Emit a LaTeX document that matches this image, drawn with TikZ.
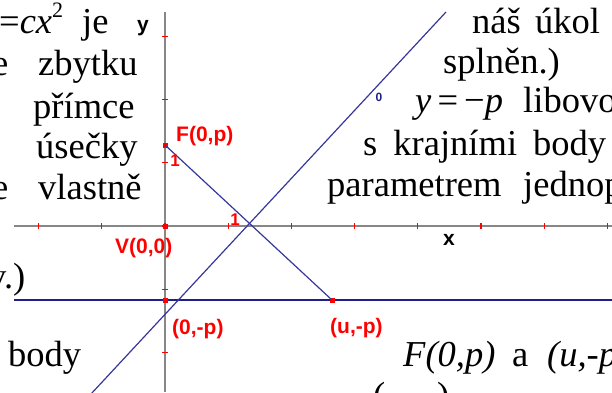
\documentclass[tikz,border=0pt]{standalone}
\usepackage{fontspec}
\setmainfont{Liberation Serif}
\setsansfont{Liberation Sans}
\usepackage{xcolor}
\usetikzlibrary{positioning}
\definecolor{axisgray}{RGB}{135,135,135}
\definecolor{linenavy}{RGB}{55,55,155}
\definecolor{dirnavy}{RGB}{30,30,140}
\definecolor{labred}{RGB}{255,0,0}

\begin{document}
\begin{tikzpicture}[x=1pt,y=-1pt,
  txt/.style={anchor=base west,inner sep=0pt,font=\fontsize{36.5}{40}\selectfont},
  lab/.style={anchor=base west,inner sep=0pt,text=labred,font=\sffamily\bfseries\fontsize{21}{21}\selectfont},
  unitlab/.style={inner sep=0pt,text=labred,font=\sffamily\bfseries\fontsize{17}{17}\selectfont},
  axlab/.style={anchor=base west,inner sep=0pt,font=\sffamily\bfseries\fontsize{21}{21}\selectfont},
  pt/.style={fill=labred,inner sep=0pt,minimum size=5pt},
  axis/.style={axisgray,line width=1.8pt},
  tick/.style={labred,line width=1.2pt}]
\useasboundingbox (0,0) rectangle (612,392);
\clip (0,0) rectangle (612,392);
% text of the page behind the picture
\node[txt] (l1a) at (-1,33) {=\textit{cx}\raisebox{0.42em}{\fontsize{22}{22}\selectfont 2}};
\node[txt] (l1b) at (82,33) {je};
\node[txt] (l2a) at (-8,75) {e};
\node[txt] (l2b) at (38,75) {zbytku};
\node[txt] (l3) at (33,118) {přímce};
\node[txt] (l4) at (36,158) {úsečky};
\node[txt] (l5a) at (-8,199) {e};
\node[txt] (l5b) at (38,199) {vlastně};
\node[txt] (l6) at (-12,288) {v.)};
\node[txt] (l7) at (8,366) {body};
\node[txt] (r1a) at (472,33) {náš};
\node[txt] (r1b) at (535,33) {úkol};
\node[txt] (r2) at (443,73) {splněn.)};
\node[txt] (r3a) at (415,112) {\textit{y}\,=\,−\textit{p}};
\node[txt] (r3b) at (523,112) {libovo};
\node[txt] (r4) at (363,155) {\makebox[243pt][s]{s krajními body}};
\node[txt] (r5a) at (327,196) {parametrem};
\node[txt] (r5b) at (523,196) {jednop};
\node[txt] (r7a) at (403,366) {\textit{F(0,p)}};
\node[txt] (r7b) at (512,366) {a};
\node[txt] (r7c) at (547,366) {\textit{(u,-p}};
\node[txt] (r8a) at (373,407) {(};
\node[txt] (r8b) at (437,407) {)};
% axes
\coordinate (xl) at (14,226);
\coordinate (xr) at (612,226);
\coordinate (yt) at (165,12);
\coordinate (yb) at (165,392);
\draw[axis] (xl) -- (xr);
\draw[axis] (yt) -- (yb);
\foreach \k in {-2,...,7}
  \draw[tick] ({165+63.2*\k},223) -- ({165+63.2*\k},229);
\foreach \k in {-2,...,3}
  \draw[tick] (162,{226-63.2*\k}) -- (168,{226-63.2*\k});
% directrix, segment and bisector
\coordinate (dl) at (14,300);
\coordinate (dr) at (612,300);
\draw[dirnavy,line width=1.8pt] (dl) -- (dr);
\node[pt] (F) at (165,145) {};
\node[pt] (V) at (165,226) {};
\node[pt] (P) at (165,300) {};
\node[pt] (U) at (332,300) {};
\coordinate (bb) at (91,394);
\coordinate (bt) at (446,12);
\draw[linenavy,line width=1.2pt] (F.center) -- (U.center);
\draw[linenavy,line width=1.2pt] (bb) -- (bt);
% labels
\node[lab] (Flab) at (176,141) {F(0,p)};
\node[lab] (Vlab) at (115,253) {V(0,0)};
\node[lab] (Plab) at (172,334) {(0,-p)};
\node[lab] (Ulab) at (330,333) {(u,-p)};
\node[unitlab] (one1) at (175,161) {1};
\node[unitlab] (one2) at (235,220) {1};
\node[axlab] (ylab) at (137,31) {y};
\node[axlab] (xlab) at (443,245) {x};
\node[inner sep=0pt,text=dirnavy,font=\sffamily\bfseries\fontsize{12}{12}\selectfont] (zero) at (379,97) {0};
\end{tikzpicture}
\end{document}
